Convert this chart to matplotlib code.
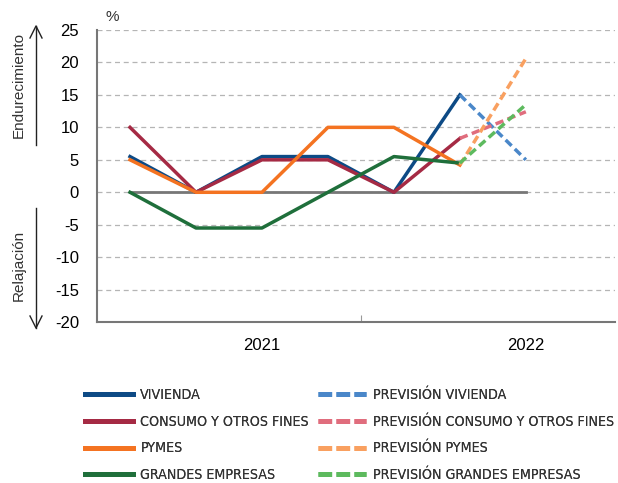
import matplotlib.pyplot as plt
from matplotlib.lines import Line2D

plt.rcParams['font.family'] = ['Liberation Sans', 'DejaVu Sans']
plt.rcParams['axes.unicode_minus'] = False

# quarters: 2021 Q1..Q4, 2022 Q1..Q3 (last one forecast)
x_obs = [0, 1, 2, 3, 4, 5]
x_prev = [5, 6]

vivienda = [5.5, 0, 5.5, 5.5, 0, 15]
consumo = [10, 0, 5, 5, 0, 8.3]
pymes = [5, 0, 0, 10, 10, 4.2]
grandes = [0, -5.5, -5.5, 0, 5.5, 4.5]

prev_vivienda = [15, 5]
prev_consumo = [8.3, 12.4]
prev_pymes = [4.2, 20.6]
prev_grandes = [4.5, 13.5]

names = ['VIVIENDA', 'CONSUMO Y OTROS FINES', 'PYMES', 'GRANDES EMPRESAS']
colors = ['#0d4a85', '#a52a44', '#f47321', '#1f6f3b']
prev_colors = ['#4a87c9', '#e06d7d', '#f9a060', '#5dba5e']

years = ['2021', '2022']
year_pos = [2, 6]

fig = plt.figure(figsize=(6.18, 4.83), dpi=100)
ax = fig.add_axes([0.157, 0.333, 0.838, 0.605])

for y in [-15, -10, -5, 0, 5, 10, 15, 20, 25]:
    ax.axhline(y, color='#b5b5b5', lw=0.9, ls=(0, (4, 3)), zorder=0)
ax.plot([0, 6], [0, 0], color='#777777', lw=2, zorder=1)

series = [vivienda, consumo, pymes, grandes]
prevs = [prev_vivienda, prev_consumo, prev_pymes, prev_grandes]
for s, c in zip(series, colors):
    ax.plot(x_obs, s, color=c, lw=2.5, zorder=3)
for p, c in zip(prevs, prev_colors):
    ax.plot(x_prev, p, color=c, lw=2.5, ls=(0, (2.4, 1.3)), zorder=4)

ax.set_xlim(-0.5, 7.35)
ax.set_ylim(-20, 25)
ax.set_yticks(range(-20, 26, 5))
ax.tick_params(axis='y', length=0, labelsize=12, pad=13)
ax.set_xticks([3.5])
ax.set_xticklabels([''])
ax.tick_params(axis='x', direction='in', length=5, color='#999999')
for yr, xp in zip(years, year_pos):
    ax.text(xp, -23.6, yr, ha='center', va='center', fontsize=12)

for sp in ['top', 'right']:
    ax.spines[sp].set_visible(False)
for sp in ['left', 'bottom']:
    ax.spines[sp].set_color('#777777')
    ax.spines[sp].set_linewidth(1.5)

fig.text(112 / 618, 1 - 17 / 483, '%', fontsize=11, ha='center', va='center', color='#333333')

# side arrows
fig.text(19 / 618, 1 - 85 / 483, 'Endurecimiento', rotation=90, ha='center', va='center', fontsize=11, color='#333333')
fig.text(19 / 618, 1 - 265 / 483, 'Relajación', rotation=90, ha='center', va='center', fontsize=11, color='#333333')
fig.add_artist(Line2D([36 / 618, 36 / 618], [1 - 145 / 483, 1 - 26 / 483], color='#222222', lw=1))
fig.add_artist(Line2D([30 / 618, 36 / 618, 42 / 618], [1 - 38 / 483, 1 - 26 / 483, 1 - 38 / 483], color='#222222', lw=1))
fig.add_artist(Line2D([36 / 618, 36 / 618], [1 - 208 / 483, 1 - 328 / 483], color='#222222', lw=1))
fig.add_artist(Line2D([30 / 618, 36 / 618, 42 / 618], [1 - 316 / 483, 1 - 328 / 483, 1 - 316 / 483], color='#222222', lw=1))

# legend, two blocks
leg_font = {'family': ['DejaVu Sans', 'Liberation Sans'], 'stretch': 'condensed', 'size': 10.2}
h1 = [Line2D([], [], color=c, lw=3.5) for c in colors]
h2 = [Line2D([], [], color=c, lw=3.5, ls=(0, (2.8, 0.9))) for c in prev_colors]
for hs, labs, x0 in [(h1, names, 85 / 618), (h2, ['PREVISIÓN ' + n for n in names], 318 / 618)]:
    leg = fig.legend(hs, labs, loc='upper left', bbox_to_anchor=(x0, 1 - 388 / 483),
                     frameon=False, handlelength=3.4, handletextpad=0.5,
                     labelspacing=0.9, prop=leg_font, labelcolor='#333333',
                     borderaxespad=0, borderpad=0)
    fig.add_artist(leg)

fig.savefig('out.png', dpi=100)
